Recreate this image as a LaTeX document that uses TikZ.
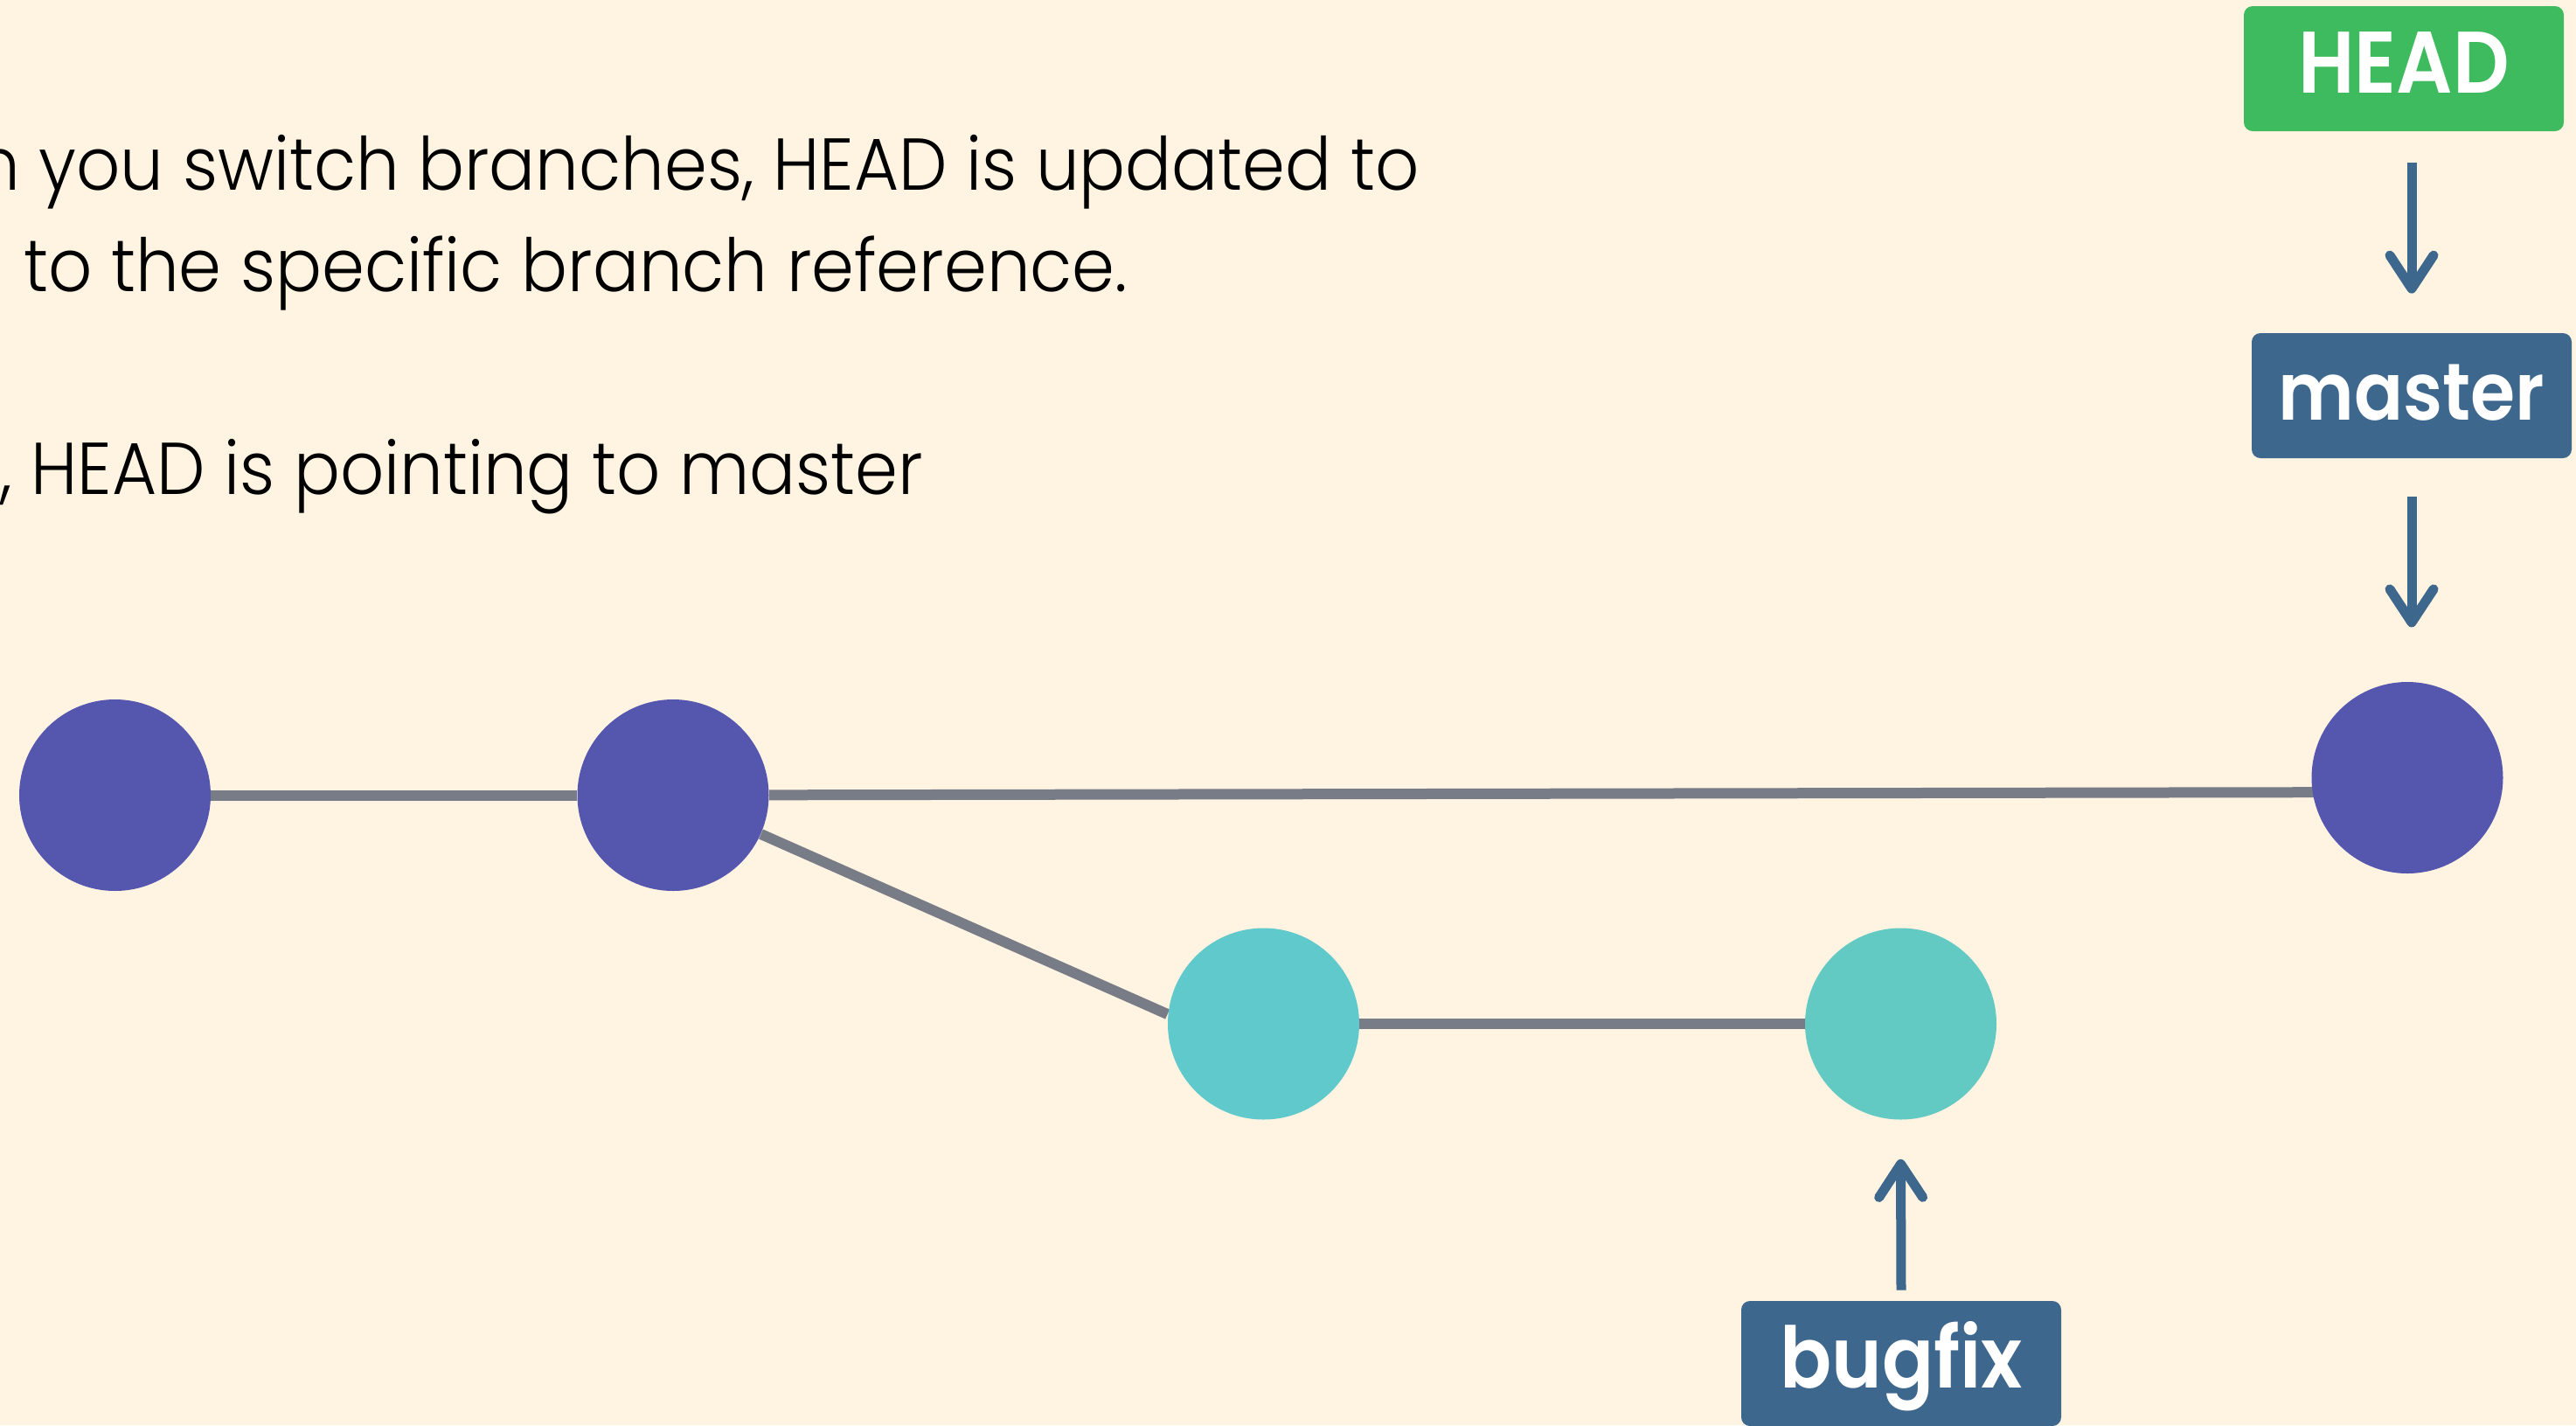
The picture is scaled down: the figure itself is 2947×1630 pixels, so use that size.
\documentclass[tikz,border=0pt]{standalone}
\usepackage{fontspec}
\usetikzlibrary{arrows.meta,calc}
\IfFontExistsTF{Poppins Light}
  {\newfontfamily\bodyfont[FakeStretch=0.935]{Poppins Light}}
  {\newfontfamily\bodyfont[FakeStretch=0.935]{Poppins}}
\IfFontExistsTF{Poppins SemiBold}
  {\newfontfamily\labelfont[FakeStretch=0.9]{Poppins SemiBold}}
  {\newfontfamily\labelfont[FakeStretch=0.9,FakeBold=1]{Poppins}}
\definecolor{bgc}{HTML}{FFF3E2}
\definecolor{purp}{HTML}{5457AD}
\definecolor{tealA}{HTML}{5FC9CB}
\definecolor{tealB}{HTML}{63C9C3}
\definecolor{lgray}{HTML}{787C86}
\definecolor{hgreen}{HTML}{3FBB5F}
\definecolor{bblue}{HTML}{3D678C}
\pgfdeclarelayer{back}
\pgfdeclarelayer{lines}
\pgfsetlayers{back,lines,main}
\tikzset{
  commit/.style={circle, minimum size=109.5pt, inner sep=0pt, draw=none},
  refbox/.style={rounded corners=5pt, minimum width=183pt, minimum height=71.5pt,
    inner sep=0pt, text=white, text height=28pt, text depth=0pt,
    font=\labelfont\fontsize{46pt}{50pt}\selectfont},
  edge/.style={draw=lgray, line width=6pt},
  ptr/.style={draw=bblue, line width=5.5pt,
    -{Straight Barb[length=19pt,width=25pt,line cap=round,line join=round]}},
  body/.style={anchor=base west, inner sep=0pt,
    font=\bodyfont\fontsize{42pt}{50pt}\selectfont}
}
\begin{document}
\begin{tikzpicture}[x=0.5pt,y=-0.5pt]
\begin{pgfonlayer}{back}
\fill[bgc] (0,0) rectangle (2947,1630);
\end{pgfonlayer}
\useasboundingbox (0,0) rectangle (2947,1630);

\node[body] (t1) at (-27,217) {n you switch branches, HEAD is updated to};
\node[body] (t2) at (27,333) {to the specific branch reference.};
\node[body] (t3) at (0,565) {, HEAD is pointing to master};

\node[commit, fill=purp] (c1) at (131.5,909.5) {};
\node[commit, fill=purp] (c2) at (770,909.5) {};
\node[commit, fill=tealA] (c3) at (1445.5,1171) {};
\node[commit, fill=tealB] (c4) at (2174.5,1171) {};
\node[commit, fill=purp] (c5) at (2754,889.5) {};

\node[refbox, fill=hgreen] (head) at (2750,78.5) {\fontsize{50pt}{54pt}\selectfont HEAD};
\node[refbox, fill=bblue] (master) at (2759,452.5) {master};
\node[refbox, fill=bblue] (bugfix) at (2175,1559.5) {\fontsize{48.5pt}{52pt}\selectfont bugfix};

\coordinate (m5) at (2754,906);
\coordinate (d3) at ($(c3.west)+(0,-11)$);

\begin{pgfonlayer}{lines}
\draw[edge] (c1) -- (c2);
\draw[edge] (c2) -- (m5);
\draw[edge] (c2) -- (d3);
\draw[edge] (c3) -- (c4);
\end{pgfonlayer}

\coordinate (a1s) at ($(master.north)+(0,-195)$);
\coordinate (a1e) at ($(master.north)+(0,-45)$);
\coordinate (a2s) at ($(master.south)+(0,44)$);
\coordinate (a2e) at ($(master.south)+(0,193)$);
\coordinate (a3s) at ($(bugfix.north)+(0,-12)$);
\coordinate (a3e) at ($(c4.south)+(0,45)$);
\draw[ptr] (a1s) -- (a1e);
\draw[ptr] (a2s) -- (a2e);
\draw[ptr] (a3s) -- (a3e);
\end{tikzpicture}
\end{document}
